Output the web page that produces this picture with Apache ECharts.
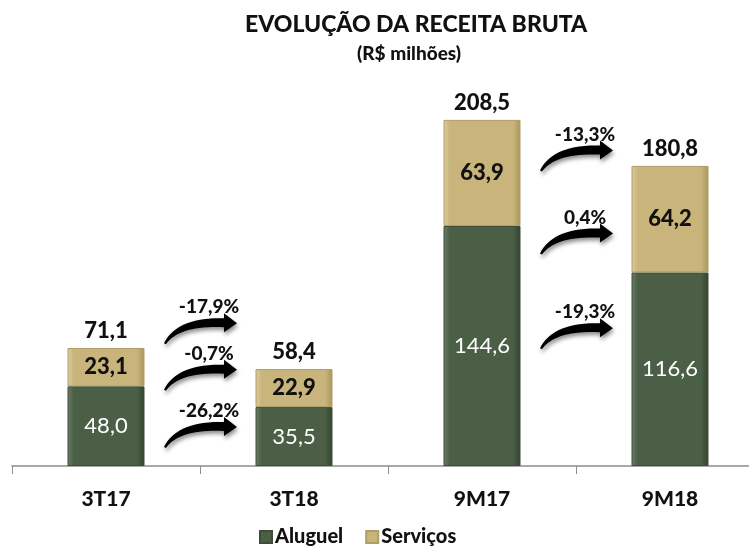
<!DOCTYPE html>
<html>
<head>
<meta charset="utf-8">
<script src="https://cdn.jsdelivr.net/npm/echarts@6/dist/echarts.min.js"></script>
<style>
  html, body { margin: 0; padding: 0; background: #fff; overflow: hidden; }
  #chart { width: 764px; height: 546px; }
</style>
</head>
<body>
<div id="chart"></div>
<script>
const categories = ['3T17', '3T18', '9M17', '9M18'];
const aluguel = [48.0, 35.5, 144.6, 116.6];
const servicos = [23.1, 22.9, 63.9, 64.2];
const totals = [71.1, 58.4, 208.5, 180.8];

// variation arrows: start category index, level (in R$ mi) and label
const arrowFrom = [0, 0, 0, 2, 2, 2];
const arrowLevels = [86, 58, 23.5, 190, 140, 83];
const arrowLabels = ['-17,9%', '-0,7%', '-26,2%', '-13,3%', '0,4%', '-19,3%'];

const FONT = 'Lato';
const HEAVY = 900;
const fmt = (v) => v.toFixed(1).replace('.', ',');

function barColor(base, light, dark) {
  return new echarts.graphic.LinearGradient(0, 0, 1, 0, [
    { offset: 0, color: light },
    { offset: 0.08, color: base },
    { offset: 0.9, color: base },
    { offset: 1, color: dark }
  ]);
}

// the plot runs past the right edge of the 749px window, like the original
const chart = echarts.init(document.getElementById('chart'), null, { renderer: 'canvas' });

const arrowPath = 'M -36 20 C -28 4 -10 -6 24 -5 L 24 -10 L 37 0 L 24 9 L 24 4 C -6 3 -24 8 -34 21 Z';

const opt = {
  animation: false,
  title: [
    {
      text: 'EVOLUÇÃO DA RECEITA BRUTA',
      left: 240, top: 8,
      textStyle: { fontFamily: FONT, fontSize: 23, fontWeight: HEAVY, color: '#111' }
    },
    {
      text: '(R$ milhões)',
      left: 352, top: 39,
      textStyle: { fontFamily: FONT, fontSize: 19, fontWeight: HEAVY, color: '#111' }
    }
  ],
  legend: {
    data: ['Aluguel', 'Serviços'],
    left: 254,
    top: 522,
    icon: 'rect',
    itemWidth: 12,
    itemHeight: 12,
    itemGap: 22,
    textStyle: { fontFamily: FONT, fontSize: 20, fontWeight: HEAVY, color: '#111', padding: [0, 0, 0, -2] }
  },
  grid: { left: 12, right: 0, top: 51, bottom: 80 },
  xAxis: {
    type: 'category',
    data: categories,
    axisLine: { lineStyle: { color: '#8c8c8c', width: 1.5 } },
    axisTick: { show: true, length: 8, lineStyle: { color: '#8c8c8c' } },
    axisLabel: { margin: 23, fontFamily: FONT, fontSize: 21, fontWeight: HEAVY, color: '#111' }
  },
  yAxis: {
    type: 'value',
    min: 0,
    max: 250,
    show: false,
    splitLine: { show: false }
  },
  series: [
    {
      name: 'Aluguel',
      type: 'bar',
      stack: 'total',
      barWidth: 77,
      data: aluguel,
      itemStyle: {
        color: barColor('#4b5f47', '#6d8068', '#33422f'),
        borderColor: '#3d4d39',
        borderWidth: 1
      },
      label: {
        show: true,
        position: 'inside',
        formatter: (p) => fmt(p.value),
        fontFamily: FONT, fontSize: 22, color: '#fff'
      }
    },
    {
      name: 'Serviços',
      type: 'bar',
      stack: 'total',
      data: servicos,
      itemStyle: {
        color: barColor('#c9b57c', '#ddcc9c', '#a8955e'),
        borderColor: '#b09d66',
        borderWidth: 1
      },
      label: {
        show: true,
        position: 'inside',
        formatter: (p) => fmt(p.value),
        fontFamily: FONT, fontSize: 22, fontWeight: HEAVY, color: '#111'
      }
    },
    {
      name: 'Total',
      type: 'bar',
      stack: 'total',
      data: totals.map(() => 0),
      itemStyle: { color: 'transparent' },
      label: {
        show: true,
        position: 'top',
        distance: 6,
        formatter: (p) => fmt(totals[p.dataIndex]),
        fontFamily: FONT, fontSize: 22, fontWeight: HEAVY, color: '#111'
      }
    },
    {
      name: 'Variação',
      type: 'custom',
      data: arrowFrom.map((c, i) => [c, arrowLevels[i], arrowLabels[i]]),
      renderItem: (params, api) => {
        const i0 = api.value(0);
        const p0 = api.coord([i0, api.value(1)]);
        const p1 = api.coord([i0 + 1, api.value(1)]);
        const cx = (p0[0] + p1[0]) / 2;
        const cy = p0[1];
        const label = arrowLabels[params.dataIndex];
        return {
          type: 'group',
          x: cx,
          y: cy,
          children: [
            {
              type: 'path',
              shape: { pathData: arrowPath },
              style: {
                fill: '#000',
                shadowBlur: 4,
                shadowColor: 'rgba(0,0,0,0.45)',
                shadowOffsetX: 1,
                shadowOffsetY: 3
              }
            },
            {
              type: 'text',
              x: 9,
              y: -16,
              style: {
                text: label,
                textAlign: 'center',
                textVerticalAlign: 'middle',
                font: HEAVY + ' 19px ' + FONT,
                fill: '#111'
              }
            }
          ]
        };
      }
    }
  ]
};

chart.setOption(opt);
</script>
</body>
</html>
